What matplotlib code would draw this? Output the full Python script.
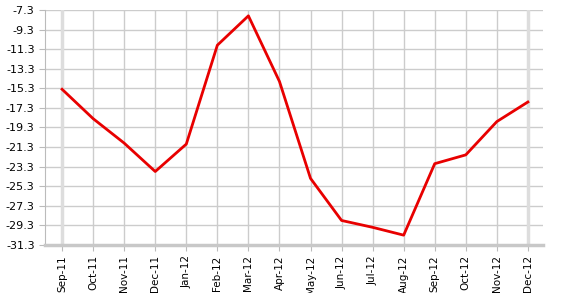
import matplotlib
matplotlib.use("Agg")
import matplotlib.pyplot as plt
import numpy as np

months = ["Sep-11", "Oct-11", "Nov-11", "Dec-11", "Jan-12", "Feb-12", "Mar-12",
          "Apr-12", "May-12", "Jun-12", "Jul-12", "Aug-12", "Sep-12", "Oct-12",
          "Nov-12", "Dec-12"]
values = [-15.4, -18.4, -20.9, -23.8, -21.0, -10.9, -7.9, -14.6, -24.5, -28.8,
          -29.5, -30.3, -23.0, -22.1, -18.7, -16.7]
y_ticks = [-31.3, -29.3, -27.3, -25.3, -23.3, -21.3, -19.3, -17.3, -15.3,
           -13.3, -11.3, -9.3, -7.3]

plt.rcParams["axes.unicode_minus"] = False
plt.rcParams["font.family"] = ["DejaVu Sans"]

fig = plt.figure(figsize=(5.66, 2.93), dpi=100)
ax = fig.add_axes([0.0795, 0.164, 0.8795, 0.802])

x = np.arange(len(months))
ax.plot(x, values, color="#e80000", linewidth=2, zorder=3)

ax.set_xlim(-0.55, len(months) - 1 + 0.48)
ax.set_ylim(y_ticks[0], y_ticks[-1])
ax.set_yticks(y_ticks)
ax.set_yticklabels([f"{v:.1f}" for v in y_ticks], fontsize=8)
ax.set_xticks(x)
ax.set_xticklabels(months, rotation=90, fontsize=7.5)

# grid, with the first and last month lines a bit heavier
ax.grid(True, color="#cccccc", linewidth=1)
ax.set_axisbelow(True)
for xi in (x[0], x[-1]):
    ax.axvline(xi, color="#dddddd", linewidth=2.5, zorder=1)

for side in ("top", "right"):
    ax.spines[side].set_visible(False)
ax.spines["left"].set_color("#bbbbbb")
ax.spines["bottom"].set_color("#c8c8c8")
ax.spines["bottom"].set_linewidth(2.5)
ax.tick_params(axis="both", colors="#bbbbbb", labelcolor="black", length=4)

fig.savefig("out.png", dpi=100)
